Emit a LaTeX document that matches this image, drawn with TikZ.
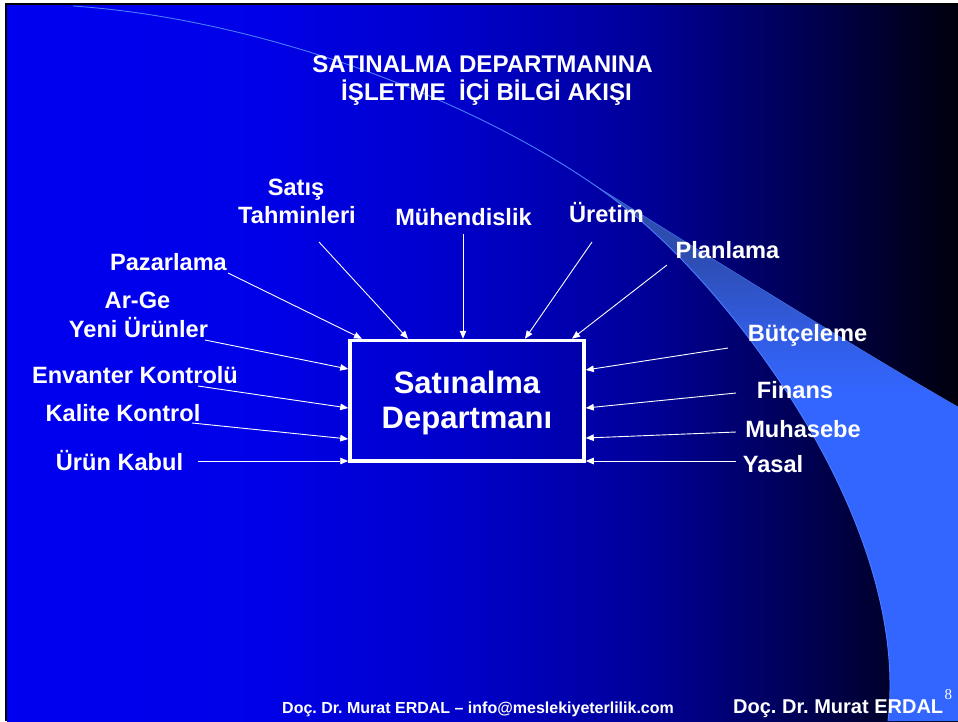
\documentclass[tikz,border=0pt]{standalone}
\usepackage{fontspec}
\setmainfont{Liberation Sans}
\newfontfamily\pagenumfont{Liberation Serif}
\usetikzlibrary{arrows.meta}
\frenchspacing

% slide background: bright blue on the left fading to near black on the right
\definecolor{bgA}{RGB}{0,0,240}
\definecolor{bgB}{RGB}{0,0,232}
\definecolor{bgC}{RGB}{0,0,200}
\definecolor{bgD}{RGB}{0,0,154}
\definecolor{bgE}{RGB}{0,0,85}
\definecolor{bgF}{RGB}{0,0,12}
\pgfdeclarehorizontalshading{slidebg}{100bp}{color(0bp)=(bgA); color(25bp)=(bgA); color(38.3bp)=(bgB); color(49.3bp)=(bgC); color(58.3bp)=(bgD); color(66.7bp)=(bgE); color(75bp)=(bgF); color(100bp)=(bgF)}

% decorative swoosh on the right
\definecolor{band}{RGB}{51,102,255}
\definecolor{bandA}{RGB}{50,92,225}
\definecolor{bandB}{RGB}{45,76,175}
\definecolor{bandC}{RGB}{50,80,180}
\definecolor{swline}{RGB}{75,125,255}
\pgfdeclareverticalshading{bandshade}{100bp}{color(0bp)=(band); color(55.5bp)=(band); color(61.3bp)=(bandA); color(68.8bp)=(bandB); color(75bp)=(bandC); color(100bp)=(bandC)}

\tikzset{
  lbl/.style={text=white, inner sep=0pt, anchor=base,
    font=\fontsize{23.6}{28}\selectfont\bfseries},
  ttl/.style={text=white, inner sep=0pt, anchor=base,
    font=\fontsize{24.1}{28}\selectfont\bfseries},
  feed/.style={draw=white, line width=0.9pt, -{Triangle[length=8pt,width=6.5pt]}},
  deptbox/.style={draw=white, line width=3.5pt, minimum width=234pt,
    minimum height=120.5pt, inner sep=0pt},
  depttext/.style={inner sep=0pt, align=center, text=white,
    font=\fontsize{31}{35}\selectfont\bfseries},
}

\begin{document}
\begin{tikzpicture}[x=1pt, y=-1pt]
\useasboundingbox (0,0) rectangle (958,721);

% page, slide frame and background
\fill[white] (0,0) rectangle (958,721);
\fill[black] (5,3) rectangle (958,721);
\fill[shading=slidebg] (7,5) rectangle (958,721);

% swoosh band
\fill[shading=bandshade] (591.9,183.4) .. controls (609.5,195.5) and (625.6,207.6) .. (640,220)
  .. controls (745,310) and (910,530) .. (888,721)
  -- (958,721) -- (958,407) .. controls (850,345) and (650,220) .. cycle;
% its thin bright edge, running in from the top left
\draw[swline, line width=0.9pt] (73,6) .. controls (280,20) and (520,117) .. (640,220)
  .. controls (745,310) and (910,530) .. (888,721);
\draw[swline!70!bandB, line width=0.6pt] (591.9,183.4) .. controls (650,220) and (850,345) .. (958,407);

% title
\node[ttl] (title1) at (482.5,72) {SATINALMA DEPARTMANINA};
\node[ttl] (title2) at (486.5,100) {İŞLETME\ \ İÇİ BİLGİ AKIŞI};

% central box
\node[deptbox] (box) at (467,400.75) {};
\node[depttext] (boxtext) at (467,402.75) {Satınalma\\Departmanı};

% sources above
\node[lbl] (satisA) at (296,195) {Satış};
\node[lbl] (satisB) at (297,223) {Tahminleri};
\node[lbl] (muh) at (463.5,225) {Mühendislik};
\node[lbl] (uret) at (606.5,222) {Üretim};
\node[lbl] (plan) at (727.5,258) {Planlama};

% sources on the left
\node[lbl] (paz) at (168.5,270) {Pazarlama};
\node[lbl] (argeA) at (137.5,308) {Ar-Ge};
\node[lbl] (argeB) at (138.5,337) {Yeni Ürünler};
\node[lbl] (env) at (135,383) {Envanter Kontrolü};
\node[lbl] (kal) at (123,421) {Kalite Kontrol};
\node[lbl] (urun) at (119.5,470) {Ürün Kabul};

% sources on the right
\node[lbl] (butce) at (807.5,341) {Bütçeleme};
\node[lbl] (fin) at (795,398) {Finans};
\node[lbl] (muhas) at (803,437) {Muhasebe};
\node[lbl] (yasal) at (773,472) {Yasal};

% connector start points
\coordinate (sPaz) at (228,273);
\coordinate (sSat) at (319,242);
\coordinate (sMuh) at (463,234);
\coordinate (sUre) at (592,242);
\coordinate (sPla) at (667,265);
\coordinate (sYeni) at (205,340);
\coordinate (sEnv) at (198,386);
\coordinate (sKal) at (192,423);
\coordinate (sUrun) at (198,461);
\coordinate (sBut) at (728,348);
\coordinate (sFin) at (736,393);
\coordinate (sMuhas) at (736,432);
\coordinate (sYas) at (736,461);

% arrows into the top edge
\draw[feed] (sPaz) -- ([xshift=13.75pt]box.north west);
\draw[feed] (sSat) -- ([xshift=59.75pt]box.north west);
\draw[feed] (sMuh) -- ([xshift=114.75pt]box.north west);
\draw[feed] (sUre) -- ([xshift=176.75pt]box.north west);
\draw[feed] (sPla) -- ([xshift=223.75pt]box.north west);

% arrows into the left edge
\draw[feed] (sYeni) -- ([yshift=-30.25pt]box.north west);
\draw[feed] (sEnv) -- ([yshift=-69.25pt]box.north west);
\draw[feed] (sKal) -- ([yshift=-100.25pt]box.north west);
\draw[feed] (sUrun) -- ([yshift=-122.25pt]box.north west);

% arrows into the right edge
\draw[feed] (sBut) -- ([yshift=-31.25pt]box.north east);
\draw[feed] (sFin) -- ([yshift=-69.25pt]box.north east);
\draw[feed] (sMuhas) -- ([yshift=-99.25pt]box.north east);
\draw[feed] (sYas) -- ([yshift=-122.25pt]box.north east);

% footer
\node[text=white, inner sep=0pt, anchor=base west,
  font=\fontsize{16}{19}\selectfont\bfseries] (footer) at (282,713)
  {Doç. Dr. Murat ERDAL – info@meslekiyeterlilik.com};
\node[text=white, inner sep=0pt, anchor=base west,
  font=\fontsize{20}{24}\selectfont\bfseries] (author) at (733,713)
  {Doç. Dr. Murat ERDAL};
\node[text=white, inner sep=0pt, anchor=base west,
  font=\fontsize{15}{18}\selectfont\pagenumfont] (pagenum) at (944.5,699) {8};
\end{tikzpicture}
\end{document}
